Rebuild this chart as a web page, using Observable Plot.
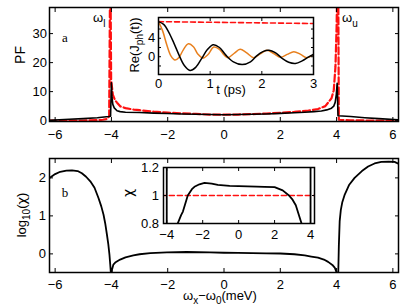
<!DOCTYPE html>
<html><head><meta charset="utf-8">
<script src="https://cdn.jsdelivr.net/npm/d3@7"></script>
<script src="https://cdn.jsdelivr.net/npm/@observablehq/plot@0.6"></script>
<style>
body{margin:0;background:#fff;}
#wrap{position:relative;width:411px;height:308px;overflow:hidden;background:#fff;}
#wrap svg{position:absolute;}
</style></head><body><div id="wrap"></div>
<script>
// ---------- data ----------
// Panel a: PF vs detuning (meV)
const pfBlackX = [-6.2,-5.5,-5.0,-4.5,-4.1,-4.03,-4.0,-3.98,-3.95,-3.9,-3.8,-3.69,-3.5,-3.0,-2.5,-2.0,-1.5,-1.0,-0.5,0,0.5,1.0,1.5,2.0,2.5,2.87,3.2,3.46,3.65,3.82,3.9,3.95,3.99,4.02,4.05,4.5,5.0,5.5,6.2];
const pfBlackY = [0.1,0.45,0.7,1.0,1.4,1.5,13.0,8.0,5.6,4.4,3.4,3.1,2.9,2.8,2.6,2.45,2.3,2.2,2.1,2.05,2.1,2.2,2.3,2.5,2.7,2.9,3.1,3.3,3.7,4.3,5.0,6.3,9.0,12.9,1.7,1.4,1.0,0.7,0.3];
const pfRedX = [-6.2,-5.5,-5.0,-4.5,-4.3,-4.15,-4.08,-4.05,-4.03,-4.01,-3.95,-3.87,-3.8,-3.68,-3.5,-3.2,-3.0,-2.5,-2.0,-1.5,-1.0,-0.5,0,0.5,1.0,1.5,2.0,2.5,3.0,3.34,3.6,3.82,3.9,3.96,4.0,4.02,4.06,4.08,4.5,5.0,6.2];
const pfRedY = [0,0,0.05,0.15,0.3,0.6,1.5,45,45,14,9.0,7.0,6.2,4.9,4.3,3.8,3.6,3.1,2.75,2.5,2.3,2.1,2.05,2.1,2.25,2.45,2.7,3.0,3.5,4.0,5.0,7.7,10.5,18.6,32,45,45,0.3,0.1,0.05,0];
const pfXTicks = [-6,-4,-2,0,2,4,6];
const pfYTicks = [0,10,20,30];

// Inset a: Re(J_ph(t)) vs t (ps)
const tBlack = [0,0.1,0.2,0.3,0.4,0.5,0.61,0.72,0.84,0.95,1.06,1.18,1.3,1.45,1.62,1.78,1.9,2.02,2.14,2.26,2.4,2.52,2.65,2.78,2.9,3.0];
const reBlack = [7.6,7.0,5.3,2.9,0.3,-1.9,-2.97,-2.3,-0.3,1.6,2.6,2.0,0.4,-1.1,-1.7,-1.1,0.2,1.1,1.4,0.9,-0.4,-1.2,-1.45,-0.9,-0.1,0.5];
const tOrange = [0,0.08,0.16,0.24,0.32,0.4,0.48,0.58,0.68,0.76,0.86,0.96,1.07,1.18,1.26,1.34,1.46,1.58,1.7,1.84,1.97,2.1,2.23,2.36,2.49,2.62,2.75,2.87,3.0];
const reOrange = [7.6,5.6,2.6,0.2,-0.72,-0.1,1.5,2.8,2.1,0.6,-0.3,0.5,2.1,1.6,0.5,-0.2,0.7,1.6,0.9,-0.2,0.6,1.4,0.7,-0.1,0.5,1.1,0.5,-0.2,0.4];
const tRed = [0,3];
const reRed = [7.6,7.2];
const inAXTicks = [0,1,2,3];
const inAYTicks = [-2,0,2,4,6];
const inAYLabels = [0,4];

// Panel b: log10(chi) vs detuning
const chiX = [-6.2,-6.0,-5.82,-5.6,-5.4,-5.2,-5.05,-4.9,-4.75,-4.6,-4.46,-4.36,-4.28,-4.22,-4.16,-4.11,-4.07,-4.04,-4.02,-4.0,-3.98,-3.93,-3.85,-3.69,-3.5,-3.22,-3.0,-2.62,-2.03,-1.32,-0.5,0,0.5,1.0,1.5,2.0,2.5,2.87,3.1,3.34,3.55,3.7,3.85,3.94,3.99,4.02,4.06,4.08,4.11,4.15,4.2,4.29,4.45,4.64,4.9,5.12,5.35,5.59,5.85,6.06,6.2];
const chiLog = [2.0,2.1,2.16,2.19,2.2,2.18,2.12,2.03,1.91,1.74,1.47,1.25,1.03,0.8,0.51,0.25,-0.02,-0.3,-0.5,-0.7,-0.42,-0.28,-0.22,-0.15,-0.09,-0.04,-0.01,0.02,0.04,0.05,0.04,0.03,0.025,0.02,0.015,0.01,-0.01,-0.04,-0.07,-0.1,-0.15,-0.21,-0.29,-0.37,-0.47,-0.7,-0.5,0.2,0.86,1.15,1.35,1.56,1.82,2.0,2.18,2.3,2.38,2.42,2.43,2.42,2.37];
const bXTicks = [-6,-4,-2,0,2,4,6];
const bYTicks = [0,1,2];

// Inset b: chi vs detuning
const inBX = [-4.3,-4.0,-4.0,-3.8,-3.6,-3.39,-3.2,-3.1,-2.83,-2.6,-2.46,-2.18,-1.9,-1.5,-1.16,-0.5,0,0.5,1.0,1.43,2.0,2.45,2.8,3.0,3.18,3.5,3.7,4.0,4.0,4.3];
const inBChi = [2,2,0.6,0.65,0.73,0.8,0.86,0.885,1.0,1.045,1.062,1.08,1.09,1.085,1.076,1.069,1.067,1.065,1.063,1.062,1.06,1.037,1.0,0.97,0.93,0.8,0.72,0.6,2,2];
const inBRefX = [-4.3,4.3];
const inBRefY = [1,1];
const inBXTicks = [-4,-2,0,2,4];
const inBYTicks = [0.8,1,1.2];

// ---------- helpers ----------
const FONT = '"Liberation Sans", Arial, Helvetica, sans-serif';
const SERIF = '"Liberation Serif", "Times New Roman", serif';
const GREEK = '"DejaVu Sans", sans-serif';
const RED = "#ff1010";
const ORANGE = "#e8801e";
const zip = (xs, ys) => xs.map((x, i) => ({x, y: ys[i]}));
const fmt = d => (d < 0 ? "\u2212" : "") + Math.abs(d);

function boxAxes(xt, yt, {tick = 4, fs = 13, padX = 12, padY = 7, xfmt = fmt, yfmt = fmt} = {}) {
  const blank = () => "";
  return [
    Plot.axisX(xt, {anchor: "bottom", label: null, tickSize: -tick, tickPadding: padX, tickFormat: xfmt, fontSize: fs, strokeWidth: 1}),
    Plot.axisX(xt, {anchor: "top", label: null, tickSize: -tick, tickFormat: blank, strokeWidth: 1}),
    Plot.axisY(yt, {anchor: "left", label: null, tickSize: -tick, tickPadding: padY, tickFormat: yfmt, fontSize: fs, strokeWidth: 1}),
    Plot.axisY(yt, {anchor: "right", label: null, tickSize: -tick, tickFormat: blank, strokeWidth: 1})
  ];
}

function place(svg, left, top) {
  svg.style.left = left + "px";
  svg.style.top = top + "px";
  document.getElementById("wrap").appendChild(svg);
  return d3.select(svg);
}

// parts: [[text, kind, family?], ...]  kind: "sub" or null
function label(sel, x, y, parts, {size = 13, rotate = 0, anchor = "middle", family = FONT, subSize = 10, subShift = 4} = {}) {
  const t = sel.append("text")
    .attr("transform", `translate(${x},${y}) rotate(${rotate})`)
    .attr("text-anchor", anchor)
    .attr("font-family", family)
    .attr("font-size", size)
    .attr("fill", "black");
  let shifted = 0;
  for (const [s, kind, fam] of parts) {
    const sp = t.append("tspan").text(s);
    if (fam) sp.attr("font-family", fam);
    if (kind === "sub") {
      sp.attr("font-size", subSize).attr("dy", subShift - shifted);
      shifted = subShift;
    } else {
      sp.attr("dy", -shifted);
      shifted = 0;
    }
  }
  return t;
}

const baseStyle = {background: "transparent", fontFamily: FONT, fontSize: "13px", overflow: "visible", color: "black"};

// ---------- Panel a ----------
const pA = Plot.plot({
  width: 411, height: 150,
  marginLeft: 49, marginRight: 13, marginTop: 7, marginBottom: 29,
  style: baseStyle,
  x: {domain: [-6.2, 6.2]},
  y: {domain: [-0.3, 39]},
  marks: [
    Plot.line(zip(pfRedX, pfRedY), {x: "x", y: "y", stroke: RED, strokeWidth: 2.2, strokeDasharray: "7,3", clip: true}),
    Plot.line(zip(pfBlackX, pfBlackY), {x: "x", y: "y", stroke: "black", strokeWidth: 1.6, clip: true}),
    Plot.frame({stroke: "black", strokeWidth: 1.5}),
    ...boxAxes(pfXTicks, pfYTicks, {padX: 12, padY: 6.5})
  ]
});
const sA = place(pA, 0, 0);
label(sA, 25, 55, [["PF"]], {rotate: -90, size: 14});
label(sA, 65, 42, [["a"]], {family: SERIF, size: 13});
label(sA, 93, 22, [["\u03c9"], ["l", "sub"]], {anchor: "start", size: 13, subShift: 5});
label(sA, 342, 22, [["\u03c9"], ["u", "sub"]], {anchor: "start", size: 13, subShift: 5});

// ---------- Panel b ----------
const pB = Plot.plot({
  width: 411, height: 158,
  marginLeft: 49, marginRight: 13, marginTop: 8, marginBottom: 36,
  style: baseStyle,
  x: {domain: [-6.2, 6.2]},
  y: {domain: [-0.49, 2.51]},
  marks: [
    Plot.line(zip(chiX, chiLog), {x: "x", y: "y", stroke: "black", strokeWidth: 1.8, clip: true}),
    Plot.frame({stroke: "black", strokeWidth: 1.5}),
    ...boxAxes(bXTicks, bYTicks, {padX: 11, padY: 7.5})
  ]
});
const sB = place(pB, 0, 150);
label(sB, 26, 65, [["log"], ["10", "sub"], ["("], ["\u03c7", null, GREEK], [")"]], {rotate: -90, size: 13});
label(sB, 65, 47, [["b"]], {family: SERIF, size: 13});
label(sB, 183, 150, [["\u03c9"], ["x", "sub"], ["\u2212\u03c9"], ["0", "sub"], ["(meV)"]], {anchor: "start", size: 13, subShift: 4});

// ---------- Inset a ----------
const iA = Plot.plot({
  width: 195, height: 92,
  marginLeft: 35, marginRight: 5, marginTop: 5, marginBottom: 30,
  style: baseStyle,
  x: {domain: [0, 3]},
  y: {domain: [-3.85, 8.5]},
  marks: [
    Plot.frame({fill: "white", stroke: "none"}),
    Plot.line(zip(tRed, reRed), {x: "x", y: "y", stroke: RED, strokeWidth: 1.6, strokeDasharray: "5,3", clip: true}),
    Plot.line(zip(tOrange, reOrange), {x: "x", y: "y", stroke: ORANGE, strokeWidth: 1.5, curve: "catmull-rom", clip: true}),
    Plot.line(zip(tBlack, reBlack), {x: "x", y: "y", stroke: "black", strokeWidth: 1.5, curve: "catmull-rom", clip: true}),
    Plot.frame({stroke: "black", strokeWidth: 1.5}),
    ...boxAxes(inAXTicks, inAYTicks, {tick: 3, padX: 7, padY: 6.3, yfmt: d => inAYLabels.includes(d) ? fmt(d) : ""})
  ]
});
const sIA = place(iA, 123, 12);
label(sIA, 16, 33, [["Re(J"], ["ph", "sub"], ["(t))"]], {rotate: -90, size: 13});
label(sIA, 108, 82, [["t (ps)"]], {size: 13});

// ---------- Inset b ----------
const iB = Plot.plot({
  width: 191, height: 86,
  marginLeft: 35, marginRight: 5, marginTop: 5, marginBottom: 25,
  style: baseStyle,
  x: {domain: [-4.18, 4.22]},
  y: {domain: [0.8, 1.2]},
  marks: [
    Plot.frame({fill: "white", stroke: "none"}),
    Plot.line(zip(inBRefX, inBRefY), {x: "x", y: "y", stroke: RED, strokeWidth: 1.6, strokeDasharray: "5,3", clip: true}),
    Plot.line(zip(inBX, inBChi), {x: "x", y: "y", stroke: "black", strokeWidth: 1.8, curve: "linear", clip: true}),
    Plot.frame({stroke: "black", strokeWidth: 1.5}),
    ...boxAxes(inBXTicks, inBYTicks, {tick: 3, padX: 9.2, padY: 7.4, yfmt: d => String(d)})
  ]
});
const sIB = place(iB, 128, 162);
label(sIB, 5, 31, [["\u03c7", null, GREEK]], {rotate: -90, size: 14});
</script></body></html>
